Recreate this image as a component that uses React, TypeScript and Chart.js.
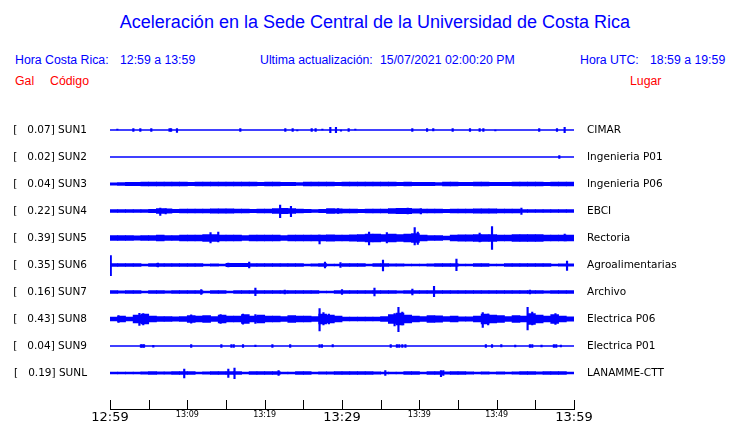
import React, { useEffect, useRef } from "react";
import { Chart, registerables } from "chart.js";

Chart.register(...registerables);

// ---- Data ----
const CODES = ["SUN1", "SUN2", "SUN3", "SUN4", "SUN5", "SUN6", "SUN7", "SUN8", "SUN9", "SUNL"];
const PEAKS = [0.07, 0.02, 0.04, 0.22, 0.39, 0.35, 0.16, 0.43, 0.04, 0.19];
const PLACES = [
  "CIMAR", "Ingenieria P01", "Ingenieria P06", "EBCI", "Rectoria",
  "Agroalimentarias", "Archivo", "Electrica P06", "Electrica P01", "LANAMME-CTT",
];
const TICK_MINUTES = [0, 10, 20, 30, 40, 50, 60];
const TICK_LABELS = ["12:59", "13:09", "13:19", "13:29", "13:39", "13:49", "13:59"];

// per-minute envelope half-amplitudes (relative units)
const SUN1_ENV: number[] = [];
const SUN2_ENV: number[] = [];
const SUN3_ENV = [1.2, 1.3, 1.6, 1.6, 1.8, 1.8, 1.8, 1.8, 1.8, 1.8, 1.6, 1.8, 1.8, 1.8, 1.8, 1.8, 1.8, 1.8, 1.8, 1.6, 1.8, 1.8, 1.6, 1.6, 1.5, 1.8, 1.8, 1.8, 1.8, 1.6, 1.8, 1.8, 1.8, 1.8, 1.8, 1.8, 1.8, 1.7, 1.8, 1.7, 1.7, 1.6, 1.5, 1.8, 1.8, 1.7, 1.6, 1.8, 1.8, 1.7, 1.6, 1.7, 1.8, 1.8, 1.8, 1.8, 1.7, 1.8, 1.8, 1.8];
const SUN4_ENV = [1.4, 1.4, 1.4, 1.4, 1.4, 1.6, 2.4, 2.2, 1.6, 1.8, 2.0, 2.0, 1.8, 2.2, 2.2, 2.2, 2.0, 1.8, 1.6, 2.0, 1.8, 2.4, 2.6, 2.4, 1.8, 1.6, 1.4, 1.6, 2.4, 2.2, 1.8, 2.0, 1.6, 1.8, 2.0, 2.0, 2.4, 2.6, 2.6, 2.2, 2.0, 1.8, 1.8, 1.6, 2.0, 2.0, 1.8, 2.2, 2.2, 2.2, 2.0, 1.8, 2.0, 1.4, 1.4, 1.4, 1.4, 1.4, 1.4, 1.4];
const SUN5_ENV = [2.3, 2.3, 2.3, 2.2, 2.5, 2.5, 2.8, 2.5, 2.5, 2.8, 3.0, 3.0, 3.5, 3.5, 3.0, 2.8, 2.8, 2.5, 2.8, 2.8, 3.0, 3.0, 2.5, 2.8, 2.8, 2.8, 3.0, 3.0, 3.2, 3.0, 3.0, 3.2, 3.5, 4.0, 4.0, 3.5, 3.8, 3.5, 3.8, 4.5, 3.0, 2.5, 2.5, 2.0, 3.0, 3.2, 3.2, 3.5, 3.5, 3.5, 3.0, 3.0, 3.5, 3.5, 3.5, 3.5, 3.0, 3.0, 3.0, 3.0];
const SUN6_ENV = [1.3, 1.3, 1.3, 1.3, 1.0, 1.3, 1.3, 1.3, 1.3, 1.3, 1.3, 1.3, 0.8, 1.2, 0.8, 1.6, 1.6, 1.6, 1.4, 1.4, 1.4, 1.4, 1.3, 1.3, 1.3, 1.0, 1.2, 1.5, 0.8, 1.0, 1.4, 1.4, 1.4, 0.8, 1.4, 1.4, 1.2, 1.2, 1.0, 1.0, 1.0, 1.2, 1.5, 1.5, 1.5, 1.0, 1.0, 1.3, 1.3, 1.0, 1.0, 1.3, 1.3, 1.3, 1.3, 1.3, 1.3, 1.0, 1.2, 1.2];
const SUN7_ENV = [1.5, 1.2, 1.5, 1.5, 1.0, 1.5, 1.5, 1.2, 1.5, 1.5, 1.5, 1.5, 1.0, 1.5, 1.5, 0.9, 1.5, 1.5, 1.5, 1.5, 1.5, 1.5, 1.5, 1.5, 1.5, 1.3, 1.3, 1.0, 1.0, 1.5, 1.5, 1.5, 1.5, 1.5, 1.5, 1.5, 1.5, 1.2, 1.5, 1.5, 1.5, 1.5, 1.5, 1.3, 1.5, 1.5, 1.5, 1.5, 1.5, 1.5, 1.5, 1.5, 1.5, 1.5, 1.5, 1.5, 1.2, 1.5, 1.5, 1.5];
const SUN8_ENV = [2.0, 3.0, 2.0, 4.0, 5.0, 2.8, 2.5, 2.5, 2.2, 2.5, 3.5, 2.8, 3.5, 2.5, 4.0, 3.0, 3.0, 4.5, 3.0, 3.8, 2.8, 3.0, 2.5, 3.5, 3.0, 3.0, 2.5, 5.0, 4.0, 3.0, 2.0, 2.0, 1.8, 1.8, 2.0, 2.5, 4.5, 6.0, 4.0, 3.0, 2.5, 3.5, 3.2, 2.5, 3.0, 2.2, 2.2, 3.0, 5.0, 4.0, 3.5, 2.5, 3.5, 3.0, 5.5, 4.0, 3.0, 4.5, 3.0, 2.2];
const SUN9_ENV: number[] = [];
const SUNL_ENV = [0.9, 0.9, 0.8, 0.9, 1.2, 1.3, 1.1, 1.2, 1.3, 1.4, 1.3, 1.0, 1.2, 1.4, 1.5, 1.4, 1.3, 1.0, 1.3, 1.3, 1.4, 1.4, 0.8, 1.0, 1.3, 1.3, 1.0, 1.2, 1.2, 1.3, 1.3, 1.4, 1.4, 1.4, 1.2, 1.0, 1.0, 0.9, 1.3, 1.4, 1.0, 1.3, 1.4, 1.2, 1.3, 1.3, 1.2, 1.0, 1.2, 1.0, 1.2, 1.0, 1.2, 1.3, 1.3, 1.2, 1.3, 1.4, 1.3, 1.0];

// spikes: [minute, amplitude up, amplitude down]
const SUN1_SPIKES = [[0.95, 1.0, 0], [3.02, 1.3, 1.3], [3.92, 1.3, 1.3], [5.34, 1.3, 1.3], [7.7, 1.3, 1.3], [7.9, 1.3, 1.3], [8.66, 1.3, 2.3], [16.85, 1.3, 1.3], [22.67, 1.3, 1.3], [23.62, 1.3, 1.3], [24.22, 0, 1.0], [26.08, 1.3, 1.3], [26.59, 1.3, 1.3], [27.46, 1.0, 0], [28.49, 2.7, 2.7], [29.22, 2.7, 2.7], [29.87, 0, 1.2], [30.86, 1.3, 1.3], [31.72, 1.0, 0], [39.09, 1.3, 1.3], [41.0, 1.3, 1.3], [41.8, 1.3, 1.0], [44.31, 1.3, 1.3], [46.55, 1.3, 1.3], [47.8, 1.3, 1.3], [48.28, 1.3, 1.3], [49.83, 0, 1.0], [55.5, 1.3, 1.3], [57.8, 1.3, 1.3], [58.79, 2.7, 2.7]];
const SUN2_SPIKES = [[58.1, 1.3, 1.3]];
const SUN3_SPIKES: number[][] = [];
const SUN4_SPIKES = [[6.5, 3.0, 4.3], [7.2, 2.5, 3.0], [22.0, 6.0, 6.7], [23.4, 4.7, 5.7], [29.5, 2.5, 2.5], [38.5, 3.0, 3.0], [40.2, 2.5, 3.0], [53.2, 3.0, 3.5]];
const SUN5_SPIKES = [[13.0, 5.5, 5.0], [14.0, 6.0, 4.0], [27.1, 3.0, 6.0], [33.5, 6.0, 7.0], [35.8, 5.5, 5.0], [39.4, 10.5, 7.0], [39.8, 6.0, 6.5], [47.8, 5.0, 4.0], [49.4, 11.3, 11.3], [58.8, 4.0, 3.0]];
const SUN6_SPIKES = [[0.1, 9.3, 10.7], [6.2, 2.0, 2.0], [15.3, 2.0, 2.0], [18.0, 3.0, 3.0], [27.8, 3.0, 3.0], [29.8, 2.5, 2.5], [35.3, 5.0, 6.0], [44.8, 6.0, 5.7], [59.1, 4.0, 5.5]];
const SUN7_SPIKES = [[11.8, 2.5, 2.5], [18.8, 4.0, 3.7], [22.6, 2.0, 2.0], [30.0, 2.5, 2.5], [34.2, 4.0, 4.0], [39.1, 3.0, 3.0], [41.9, 5.7, 4.7], [54.3, 1.8, 1.8]];
const SUN8_SPIKES = [[1.1, 3.5, 3.5], [3.8, 5.7, 6.3], [4.3, 5.5, 6.0], [10.5, 4.2, 4.2], [14.3, 4.5, 4.5], [17.2, 5.0, 5.2], [18.8, 4.5, 4.5], [27.1, 10.3, 12.0], [27.6, 6.5, 6.0], [28.3, 5.0, 5.0], [36.8, 5.5, 7.0], [37.3, 11.7, 12.7], [37.8, 7.0, 6.0], [48.2, 6.5, 8.5], [48.9, 5.0, 6.0], [54.0, 11.7, 11.0], [54.6, 7.0, 6.0], [57.6, 5.5, 5.5]];
const SUN9_SPIKES = [[4.0, 1.3, 1.3], [4.2, 1.3, 1.3], [4.4, 1.3, 1.3], [5.6, 0.7, 1.2], [10.5, 1.3, 1.3], [14.4, 1.3, 1.3], [15.7, 1.3, 1.3], [16.0, 1.3, 1.3], [17.2, 1.3, 1.3], [18.8, 1.0, 0.7], [21.0, 1.3, 1.3], [23.3, 1.3, 1.3], [27.1, 1.5, 1.5], [27.4, 1.5, 1.5], [28.8, 1.3, 1.0], [36.3, 1.3, 1.3], [37.1, 1.3, 1.3], [37.4, 1.3, 1.3], [37.8, 1.3, 1.3], [38.2, 1.3, 1.3], [48.6, 1.3, 1.3], [49.4, 1.3, 1.3], [50.6, 1.3, 1.0], [52.4, 1.0, 1.0], [54.3, 1.3, 1.3], [54.6, 1.3, 1.3], [55.8, 1.0, 1.0], [57.4, 1.3, 1.3], [57.7, 1.3, 1.3], [58.3, 1.0, 1.0]];
const SUNL_SPIKES = [[9.6, 4.0, 5.0], [15.3, 4.0, 4.3], [16.1, 5.0, 5.7], [21.8, 2.5, 2.5], [35.6, 2.5, 2.5], [42.8, 2.3, 3.7], [43.1, 2.5, 2.5]];

const ENVS = [SUN1_ENV, SUN2_ENV, SUN3_ENV, SUN4_ENV, SUN5_ENV, SUN6_ENV, SUN7_ENV, SUN8_ENV, SUN9_ENV, SUNL_ENV];
const SPIKES = [SUN1_SPIKES, SUN2_SPIKES, SUN3_SPIKES, SUN4_SPIKES, SUN5_SPIKES, SUN6_SPIKES, SUN7_SPIKES, SUN8_SPIKES, SUN9_SPIKES, SUNL_SPIKES];

// ---- Styles ----
const BLUE = "#0000ff";
const RED = "#ff0000";
const SLOT_PX = 27;
const AMP = 1 / SLOT_PX; // relative amplitude unit -> slot units
const DURATION = 60;

const tickMarks = {
  id: "tickMarks",
  afterDraw(chart: any) {
    const xs = chart.scales.x;
    const { ctx, chartArea } = chart;
    ctx.save();
    ctx.strokeStyle = "#000";
    ctx.lineWidth = 1;
    xs.ticks.forEach((t: any) => {
      const px = Math.round(xs.getPixelForValue(t.value)) + 0.5;
      ctx.beginPath();
      ctx.moveTo(px, chartArea.bottom);
      ctx.lineTo(px, chartArea.bottom - 9);
      ctx.stroke();
    });
    ctx.restore();
  },
};

function App() {
  const ref = useRef<HTMLCanvasElement | null>(null);

  useEffect(() => {
    if (!ref.current) return;
    const n = CODES.length;
    const center = (i: number) => n - 0.5 - i;
    const datasets: any[] = [];
    CODES.forEach((_, i) => {
      const c = center(i);
      datasets.push({
        type: "line",
        data: [{ x: 0, y: c }, { x: DURATION, y: c }],
        borderColor: BLUE,
        borderWidth: 1.4,
        pointRadius: 0,
        order: 2,
      });
      if (ENVS[i].length) {
        datasets.push({
          type: "bar",
          data: ENVS[i].map((a, k) => ({ x: k + 0.5, y: [c - a * AMP, c + a * AMP] })),
          backgroundColor: BLUE,
          borderWidth: 0,
          barThickness: 7.9,
          order: 1,
        });
      }
      if (SPIKES[i].length) {
        datasets.push({
          type: "bar",
          data: SPIKES[i].map(([m, up, dn]) => ({ x: m, y: [c - dn * AMP, c + up * AMP] })),
          backgroundColor: BLUE,
          borderWidth: 0,
          barThickness: 1.5,
          order: 0,
        });
      }
    });

    const idx = (v: number) => Math.round(n - 0.5 - v);
    const yCommon = {
      type: "linear",
      min: -22.5 / SLOT_PX,
      max: n,
      afterBuildTicks: (s: any) => {
        s.ticks = CODES.map((_, i) => ({ value: center(i) }));
      },
      border: { display: false },
    };

    const chart = new Chart(ref.current, {
      type: "bar",
      data: { datasets },
      plugins: [tickMarks],
      options: {
        animation: false,
        responsive: false,
        maintainAspectRatio: false,
        layout: { padding: { top: 116.5, left: 0, right: 0, bottom: 0 } },
        datasets: { bar: { grouped: false } as any },
        plugins: { legend: { display: false }, tooltip: { enabled: false } },
        scales: {
          x: {
            type: "linear",
            min: 0,
            max: DURATION,
            offset: false,
            afterBuildTicks: (s: any) => {
              const t = [];
              for (let m = 0; m <= DURATION; m += 5) t.push({ value: m });
              s.ticks = t;
            },
            afterFit: (s: any) => {
              s.height = 14;
            },
            grid: { display: true, drawOnChartArea: false, drawTicks: false },
            border: { display: true, color: "#000", width: 1 },
            ticks: {
              autoSkip: false,
              maxRotation: 0,
              padding: 1,
              color: "#000",
              font: (ctx: any) => {
                const v = ctx.tick ? ctx.tick.value : 0;
                return { family: "DejaVu Sans", size: v % 30 === 0 ? 13 : 8 };
              },
              callback: (v: any) => {
                const k = TICK_MINUTES.indexOf(Number(v));
                return k >= 0 ? TICK_LABELS[k] : "";
              },
            },
          },
          y: {
            ...yCommon,
            position: "left",
            afterFit: (s: any) => {
              s.width = 110;
            },
            grid: { display: false, drawTicks: true, tickLength: 23 },
            ticks: {
              padding: 0,
              color: "#000",
              font: { family: "DejaVu Sans", size: 10.5 },
              callback: (v: any) => {
                const i = idx(Number(v));
                return `[   ${PEAKS[i].toFixed(2)}] ${CODES[i]}`;
              },
            },
          },
          y2: {
            ...yCommon,
            position: "right",
            afterFit: (s: any) => {
              s.width = 166;
            },
            grid: { display: false, drawTicks: true, tickLength: 13 },
            ticks: {
              padding: 0,
              color: "#000",
              font: { family: "DejaVu Sans", size: 10.5 },
              callback: (v: any) => PLACES[idx(Number(v))],
            },
          },
        } as any,
      },
    });
    return () => chart.destroy();
  }, []);

  const txt = (s: string, left: number, top: number, color: string, size = 12.3) => (
    <div
      style={{
        position: "absolute",
        left,
        top,
        color,
        fontFamily: "'Liberation Sans', Arial, sans-serif",
        fontSize: size,
        lineHeight: "14px",
        whiteSpace: "nowrap",
      }}
    >
      {s}
    </div>
  );

  return (
    <div style={{ position: "fixed", left: 0, top: 0, width: 740, height: 423, background: "#fff", overflow: "hidden" }}>
      <div
        style={{
          position: "absolute",
          left: 10,
          width: 730,
          top: 12,
          textAlign: "center",
          color: BLUE,
          fontFamily: "'Liberation Sans', Arial, sans-serif",
          fontSize: 18,
          lineHeight: "20px",
        }}
      >
        Aceleración en la Sede Central de la Universidad de Costa Rica
      </div>
      {txt("Hora Costa Rica:", 15, 53, BLUE)}
      {txt("12:59 a 13:59", 120, 53, BLUE)}
      {txt("Ultima actualización:", 260, 53, BLUE)}
      {txt("15/07/2021 02:00:20 PM", 380, 53, BLUE)}
      {txt("Hora UTC:", 580, 53, BLUE)}
      {txt("18:59 a 19:59", 650, 53, BLUE)}
      {txt("Gal", 15, 74, RED)}
      {txt("Código", 50, 74, RED)}
      {txt("Lugar", 630, 74, RED)}
      <canvas ref={ref} width={740} height={423} style={{ position: "absolute", left: 0, top: 0, width: 740, height: 423 }} />
    </div>
  );
}

export default App;
